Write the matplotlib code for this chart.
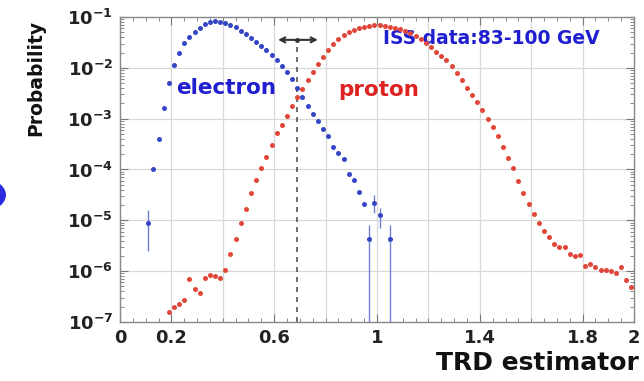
import numpy as np
import matplotlib.pyplot as plt
from matplotlib.patches import Circle

# TRD estimator distributions (electron vs proton), log-scale probability

# electron: bin centres and log10(probability)
electron_x = [0.11, 0.13, 0.15, 0.17, 0.19, 0.21, 0.23, 0.25, 0.27, 0.29,
              0.31, 0.33, 0.35, 0.37, 0.39, 0.41, 0.43, 0.45, 0.47, 0.49,
              0.51, 0.53, 0.55, 0.57, 0.59, 0.61, 0.63, 0.65, 0.67, 0.69,
              0.71, 0.73, 0.75, 0.77, 0.79, 0.81, 0.83, 0.85, 0.87, 0.89,
              0.91, 0.93, 0.95, 0.97, 0.99, 1.01, 1.05]
electron_log = [-5.05, -4.00, -3.40, -2.80, -2.30, -1.95, -1.70, -1.52, -1.40, -1.30,
                -1.21, -1.14, -1.10, -1.08, -1.09, -1.11, -1.15, -1.20, -1.27, -1.34,
                -1.41, -1.49, -1.57, -1.65, -1.74, -1.84, -1.96, -2.08, -2.22, -2.40,
                -2.58, -2.75, -2.90, -3.05, -3.20, -3.35, -3.55, -3.68, -3.80, -4.08,
                -4.20, -4.45, -4.67, -5.37, -4.66, -4.90, -5.37]
# error bars (log10 low, log10 high) only where visible
electron_err_x = [0.11, 0.97, 0.99, 1.01, 1.05]
electron_err_lo = [-5.60, -7.00, -4.85, -5.15, -7.00]
electron_err_hi = [-4.80, -5.10, -4.50, -4.75, -5.10]

# proton: bin centres and log10(probability)
proton_x = [0.19, 0.21, 0.23, 0.25, 0.27, 0.29, 0.31, 0.33, 0.35, 0.37,
            0.39, 0.41, 0.43, 0.45, 0.47, 0.49, 0.51, 0.53, 0.55, 0.57,
            0.59, 0.61, 0.63, 0.65, 0.67, 0.69, 0.71, 0.73, 0.75, 0.77,
            0.79, 0.81, 0.83, 0.85, 0.87, 0.89, 0.91, 0.93, 0.95, 0.97,
            0.99, 1.01, 1.03, 1.05, 1.07, 1.09, 1.11, 1.13, 1.15, 1.17,
            1.19, 1.21, 1.23, 1.25, 1.27, 1.29, 1.31, 1.33, 1.35, 1.37,
            1.39, 1.41, 1.43, 1.45, 1.47, 1.49, 1.51, 1.53, 1.55, 1.57,
            1.59, 1.61, 1.63, 1.65, 1.67, 1.69, 1.71, 1.73, 1.75, 1.77,
            1.79, 1.81, 1.83, 1.85, 1.87, 1.89, 1.91, 1.93, 1.95, 1.97,
            1.99]
proton_log = [-6.80, -6.70, -6.64, -6.57, -6.16, -6.35, -6.43, -6.14, -6.08, -6.09,
              -6.14, -5.98, -5.67, -5.36, -5.05, -4.78, -4.47, -4.21, -3.98, -3.75,
              -3.52, -3.29, -3.12, -2.95, -2.76, -2.58, -2.42, -2.24, -2.08, -1.93,
              -1.78, -1.65, -1.53, -1.44, -1.36, -1.30, -1.25, -1.21, -1.19, -1.17,
              -1.16, -1.16, -1.17, -1.19, -1.21, -1.24, -1.28, -1.32, -1.37, -1.44,
              -1.52, -1.60, -1.69, -1.76, -1.85, -1.96, -2.10, -2.24, -2.39, -2.53,
              -2.68, -2.83, -3.00, -3.16, -3.34, -3.55, -3.77, -3.98, -4.22, -4.46,
              -4.67, -4.88, -5.06, -5.21, -5.33, -5.46, -5.52, -5.52, -5.66, -5.70,
              -5.69, -5.90, -5.86, -5.92, -5.97, -5.97, -6.00, -6.03, -5.92, -6.18,
              -6.32]

x_ticks = [0, 0.2, 0.6, 1, 1.4, 1.8, 2]
x_tick_labels = ["0", "0.2", "0.6", "1", "1.4", "1.8", "2"]
y_exponents = [-7, -6, -5, -4, -3, -2, -1]

cut_value = 0.69

BLUE_PTS = "#3446c4"
RED_PTS = "#e0463a"

fig = plt.figure(figsize=(6.44, 3.81), dpi=100)
ax = fig.add_axes([0.1863, 0.1549, 0.7982, 0.8005])

# 점들 (전자, 양성자)
ax.plot(electron_x, np.power(10.0, electron_log), "o", color=BLUE_PTS,
        markersize=3.6, markeredgewidth=0, zorder=4)
ax.plot(proton_x, np.power(10.0, proton_log), "o", color=RED_PTS,
        markersize=3.6, markeredgewidth=0, zorder=4)
ax.vlines(electron_err_x, np.power(10.0, electron_err_lo), np.power(10.0, electron_err_hi),
          color="#6f80d8", linewidth=1.0, zorder=3)

# 컷 위치 점선 + 양방향 화살표
ax.plot([cut_value, cut_value], [1e-7, 10 ** -1.45], linestyle=(0, (3, 3)),
        color="#555555", linewidth=1.2, zorder=2)
ax.annotate("", xy=(0.615, 10 ** -1.45), xytext=(0.77, 10 ** -1.45),
            arrowprops=dict(arrowstyle="<->", color="#333333", lw=1.5,
                            mutation_scale=9, shrinkA=0, shrinkB=0))
ax.plot([cut_value], [10 ** -1.45], "o", color="#333333", markersize=2.5)

ax.set_yscale("log")
ax.set_xlim(0, 2)
ax.set_ylim(1e-7, 1e-1)

ax.set_xticks(x_ticks)
ax.set_xticklabels(x_tick_labels, fontsize=13, fontweight="bold", color="#222222")
ax.set_xticks(np.arange(0, 2.001, 0.05), minor=True)
y_ticks = [10.0 ** e for e in y_exponents]
ax.set_yticks(y_ticks)
ax.set_yticklabels([r"$\mathbf{10^{%d}}$" % e for e in y_exponents], fontsize=13,
                   color="#222222")

ax.tick_params(which="both", direction="in", top=True, right=True, color="#777777")
ax.tick_params(which="major", length=6, pad=5)
ax.tick_params(which="minor", length=3)

for gx in [0.2, 0.4, 0.6, 0.8, 1.0, 1.2, 1.4, 1.6, 1.8]:
    ax.axvline(gx, color="#d8d8d8", linewidth=0.9, zorder=0)
for gy in y_ticks[1:-1]:
    ax.axhline(gy, color="#d8d8d8", linewidth=0.9, zorder=0)

for spine in ax.spines.values():
    spine.set_color("#888888")
    spine.set_linewidth(1.0)

ax.text(0.218, 10 ** -2.40, "electron", color="#1f1fd0", fontsize=15.5,
        fontweight="bold", ha="left", va="center")
ax.text(0.848, 10 ** -2.44, "proton", color="#dd2222", fontsize=15.5,
        fontweight="bold", ha="left", va="center")
ax.text(1.023, 10 ** -1.43, "ISS data:83-100 GeV", color="#1f1fd0", fontsize=13.5,
        fontweight="bold", ha="left", va="center")

fig.text(0.055, 0.795, "Probability", rotation=90, fontsize=13.5, fontweight="bold",
         ha="center", va="center", color="#111111")
fig.text(0.992, 0.048, "TRD estimator", fontsize=18, fontweight="bold",
         ha="right", va="center", color="#111111")

# 왼쪽 가장자리에 잘린 파란 원
fig.patches.append(Circle((-26 / 644, 1 - 195 / 381), 32 / 644, transform=fig.transFigure,
                          facecolor="#2b2be0", edgecolor="none"))

fig.savefig("out.png", dpi=100)
